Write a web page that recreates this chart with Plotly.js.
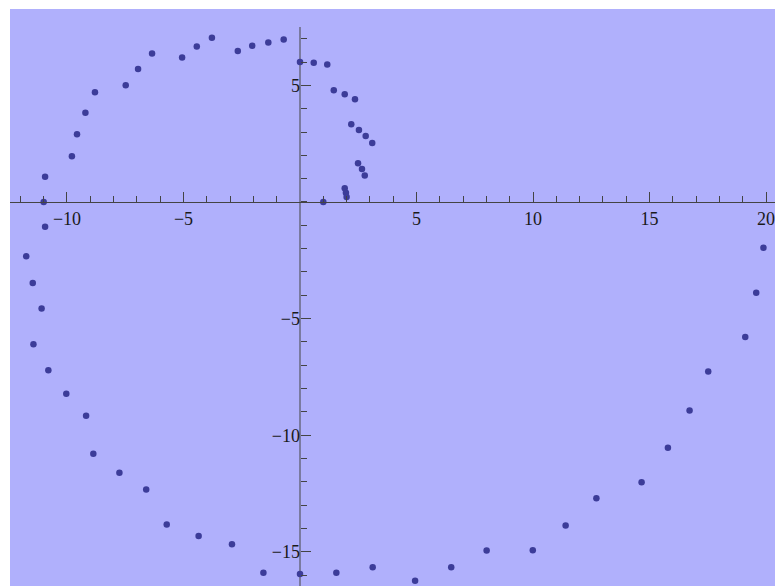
<!DOCTYPE html>
<html>
<head>
<meta charset="utf-8">
<script src="https://cdn.plot.ly/plotly-3.0.1.min.js"></script>
<style>html,body{margin:0;padding:0;background:#fff}#chart{width:775px;height:586px}</style>
</head>
<body>
<div id="chart"></div>
<script>
// Data values
var xValues = [-11.0, -10.94, -9.79, -9.57, -9.21, -8.80, -7.48, -6.95, -6.35, -5.06, -4.43, -3.78,
  -2.67, -2.05, -1.36, -0.70, 0.0, 0.59, 1.17, 1.45, 1.92, 2.36, 2.20, 2.53, 2.82, 3.10,
  2.49, 2.66, 2.78, 1.92, 1.97, 2.0, 1.0,
  -10.94, -11.75, -11.47, -11.09, -11.44, -10.80, -10.03, -9.18, -8.87, -7.75, -6.60, -5.72,
  -4.35, -2.92, -1.57, 0.0, 1.56, 3.12, 4.94, 6.49, 8.01, 9.99, 11.40, 12.72, 14.66, 15.79,
  16.72, 17.52, 19.11, 19.58, 19.89];
var yValues = [0.0, 1.08, 1.96, 2.90, 3.83, 4.70, 5.00, 5.70, 6.36, 6.19, 6.66, 7.04,
  6.47, 6.70, 6.84, 6.96, 6.0, 5.97, 5.89, 4.79, 4.62, 4.40, 3.33, 3.09, 2.83, 2.53,
  1.66, 1.41, 1.14, 0.59, 0.40, 0.21, 0.0,
  -1.06, -2.33, -3.47, -4.57, -6.10, -7.21, -8.22, -9.16, -10.79, -11.60, -12.32, -13.82,
  -14.32, -14.67, -15.89, -15.95, -15.89, -15.66, -16.23, -15.66, -14.94, -14.93, -13.87, -12.70, -12.01, -10.53,
  -8.94, -7.26, -5.79, -3.89, -1.96];

// Tick labels
var xTickVals = [-10, -5, 5, 10, 15, 20];
var yTickVals = [-15, -10, -5, 5];
var xMinorTicks = [-12, -11, -9, -8, -7, -6, -4, -3, -2, -1, 1, 2, 3, 4, 6, 7, 8, 9, 11, 12, 13, 14, 16, 17, 18, 19];
var yMinorTicks = [-16, -14, -13, -12, -11, -9, -8, -7, -6, -4, -3, -2, -1, 0, 1, 2, 3, 4, 6, 7];

var xRange = [-12.446, 20.386];
var yRange = [-16.459, 8.272];
var yAxisTop = 7.5;

var axisColor = '#444';
var tickFont = {family: '"Liberation Serif", "DejaVu Serif", serif', size: 18, color: '#1a1a1a'};

var trace = {
  type: 'scatter',
  mode: 'markers',
  x: xValues,
  y: yValues,
  marker: {size: 6.5, color: 'rgb(60,60,153)'},
  hoverinfo: 'x+y',
  showlegend: false
};

var xPos = (0 - yRange[0]) / (yRange[1] - yRange[0]);
var yPos = (0 - xRange[0]) / (xRange[1] - xRange[0]);

var layout = {
  width: 775,
  height: 586,
  margin: {l: 10, r: 0, t: 9, b: 0, pad: 0},
  paper_bgcolor: '#ffffff',
  plot_bgcolor: 'rgb(176,176,252)',
  showlegend: false,
  xaxis: {
    range: xRange,
    anchor: 'free',
    position: xPos,
    showgrid: false,
    zeroline: false,
    showline: true,
    linecolor: axisColor,
    linewidth: 1,
    tickmode: 'array',
    tickvals: xTickVals,
    ticks: 'inside',
    ticklen: 10,
    tickwidth: 1,
    tickcolor: axisColor,
    tickfont: tickFont,
    ticklabeloverflow: 'allow',
    minor: {tickmode: 'array', tickvals: xMinorTicks, ticks: 'inside', ticklen: 6, tickwidth: 1, tickcolor: axisColor, showgrid: false}
  },
  yaxis: {
    range: yRange,
    anchor: 'free',
    position: yPos,
    showgrid: false,
    zeroline: false,
    showline: false,
    tickmode: 'array',
    tickvals: yTickVals,
    ticks: 'inside',
    ticklen: 10,
    tickwidth: 1,
    tickcolor: axisColor,
    tickfont: tickFont,
    ticklabeloverflow: 'allow',
    minor: {tickmode: 'array', tickvals: yMinorTicks, ticks: 'inside', ticklen: 6, tickwidth: 1, tickcolor: axisColor, showgrid: false}
  },
  shapes: [{
    type: 'line', xref: 'x', yref: 'y',
    x0: 0, x1: 0, y0: yRange[0], y1: yAxisTop,
    line: {color: axisColor, width: 1},
    layer: 'below'
  }]
};

Plotly.newPlot('chart', [trace], layout, {displayModeBar: false, staticPlot: true});
</script>
</body>
</html>
